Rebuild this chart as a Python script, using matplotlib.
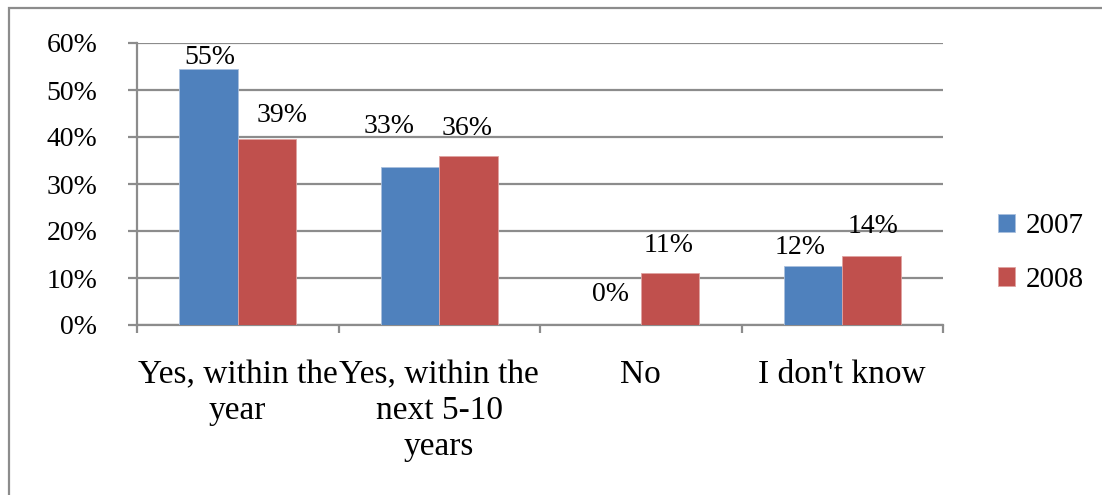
import numpy as np
import matplotlib
matplotlib.use('Agg')
import matplotlib.pyplot as plt
from matplotlib.patches import Rectangle

# data
categories = ['Yes, within the\nyear', 'Yes, within the\nnext 5-10\nyears', 'No', "I don't know"]
values_2007 = [54.5, 33.6, 0.0, 12.6]
values_2008 = [39.6, 36.0, 11.1, 14.7]
labels_2007 = ['55%', '33%', '0%', '12%']
labels_2008 = ['39%', '36%', '11%', '14%']
y_ticks = [0, 10, 20, 30, 40, 50, 60]

# hand placed label offsets (points, dx/dy from bar top)
offs_2007 = [(1, 8), (-15, 29), (-1, 22), (-9, 13)]
offs_2008 = [(11, 17), (-1, 20), (-1, 20), (1, 21)]

blue = '#4F81BD'
red = '#C0504D'
grid_col = '#8C8C8C'

plt.rcParams['font.family'] = ['Liberation Serif', 'DejaVu Serif']

fig = plt.figure(figsize=(11.02, 4.95), dpi=100)
ax = fig.add_axes([137 / 1102, 1 - 325 / 495, (943 - 137) / 1102, (325 - 43) / 495])

x = np.arange(len(categories))
w = 0.29
b1 = ax.bar(x - w / 2, values_2007, w, color=blue, edgecolor='#A9C0DE', linewidth=0.6, label='2007', zorder=3)
b2 = ax.bar(x + w / 2, values_2008, w, color=red, edgecolor='#E0A3A1', linewidth=0.6, label='2008', zorder=3)

for bars, labs, offs in [(b1, labels_2007, offs_2007), (b2, labels_2008, offs_2008)]:
    for rect, lab, (dx, dy) in zip(bars, labs, offs):
        ax.annotate(lab, (rect.get_x() + rect.get_width() / 2, rect.get_height()),
                    xytext=(dx, dy), textcoords='offset points',
                    ha='center', va='center', fontsize=20)

ax.set_xlim(-0.5, len(categories) - 0.5)
ax.set_ylim(0, 60)
ax.set_yticks(y_ticks)
ax.set_yticklabels([f'{t}%' for t in y_ticks], fontsize=20)
ax.yaxis.grid(True, color=grid_col, linewidth=1.6, zorder=0)
ax.set_axisbelow(True)

ax.set_xticks(np.arange(len(categories) + 1) - 0.5)
ax.set_xticklabels([])
ax.set_xticks(x, minor=True)
ax.set_xticklabels(categories, minor=True, fontsize=24, linespacing=1.23)
ax.tick_params(axis='x', which='major', length=6, width=1.6, color=grid_col, direction='out')
ax.tick_params(axis='x', which='minor', length=0, pad=25)
ax.tick_params(axis='y', length=6.5, width=1.6, color=grid_col, pad=22)

for s in ['top', 'right']:
    ax.spines[s].set_visible(False)
for s in ['left', 'bottom']:
    ax.spines[s].set_color(grid_col)
    ax.spines[s].set_linewidth(1.6)

ax.legend(loc='center left', bbox_to_anchor=(983 / 1102, 1 - 253 / 495),
          bbox_transform=fig.transFigure, frameon=False, fontsize=21,
          borderpad=0, handlelength=0.6, handleheight=0.6,
          handletextpad=0.35, labelspacing=0.95)

# outer chart border
fig.patches.append(Rectangle((9 / 1102, -0.1), 1.2, 1.1 - 8 / 495, transform=fig.transFigure,
                             fill=False, edgecolor='#8C8C8C', linewidth=1.6))

fig.savefig('out.png', dpi=100)
